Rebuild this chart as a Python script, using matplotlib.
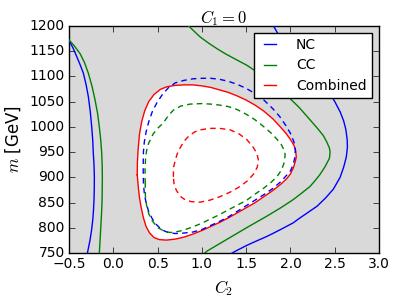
import matplotlib
matplotlib.use("Agg")
import matplotlib.pyplot as plt

# ---- data (traced contour curves, C2 vs m [GeV]) ----
nc_left_x = [-0.50, -0.455, -0.413, -0.375, -0.338, -0.308, -0.282, -0.260, -0.244, -0.233, -0.226, -0.218,
             -0.214, -0.215, -0.218, -0.224, -0.232, -0.246, -0.263, -0.293]
nc_left_y = [1171, 1156, 1139, 1123, 1106, 1084, 1060, 1030, 1000, 975, 948, 925,
             901, 878, 855, 835, 816, 795, 776, 750]

cc_left_x = [-0.50, -0.44, -0.376, -0.325, -0.282, -0.24, -0.206, -0.178, -0.158, -0.142, -0.131, -0.126,
             -0.124, -0.125, -0.127, -0.132, -0.139, -0.148, -0.158]
cc_left_y = [1172, 1160, 1145, 1127, 1106, 1080, 1053, 1027, 1000, 974, 948, 925,
             901, 878, 855, 832, 809, 780, 750]

nc_right_x = [1.80, 1.856, 1.95, 2.05, 2.15, 2.25, 2.35, 2.43, 2.50, 2.56, 2.60, 2.625, 2.64, 2.643, 2.63,
              2.60, 2.56, 2.485, 2.40, 2.30, 2.20, 2.10, 2.03, 1.90, 1.80, 1.73, 1.60, 1.50, 1.40, 1.337]
nc_right_y = [1202, 1185, 1168, 1150, 1130, 1110, 1090, 1070, 1050, 1030, 1012, 995, 975, 960, 940,
              920, 900, 877, 860, 843, 831, 819, 810, 798, 789, 783, 773, 765, 756, 750]

cc_right_x = [0.847, 0.979, 1.08, 1.167, 1.26, 1.355, 1.43, 1.506, 1.60, 1.70, 1.80, 1.90, 1.995, 2.10, 2.22,
              2.30, 2.37, 2.41, 2.44, 2.447, 2.44, 2.39, 2.33, 2.27, 2.22, 2.12, 2.03, 1.90, 1.73, 1.60, 1.50,
              1.355, 1.20, 1.055, 1.03]
cc_right_y = [1200, 1178, 1165, 1155, 1145, 1136, 1129, 1122, 1111, 1098, 1083, 1069, 1056, 1038, 1014,
              998, 983, 970, 958, 950, 938, 921, 905, 892, 882, 868, 856, 841, 823, 810, 800,
              785, 769, 754, 750]

comb_x = [0.27, 0.272, 0.28, 0.295, 0.32, 0.355, 0.40, 0.46, 0.53, 0.60, 0.70, 0.80, 0.90, 1.00, 1.10, 1.20,
          1.30, 1.40, 1.50, 1.60, 1.70, 1.80, 1.88, 1.95, 2.00, 2.04, 2.06, 2.065, 2.055, 2.035, 2.00, 1.96,
          1.90, 1.80, 1.70, 1.60, 1.50, 1.40, 1.30, 1.20, 1.10, 1.00, 0.90, 0.80, 0.70, 0.60, 0.52, 0.46,
          0.41, 0.37, 0.34, 0.315, 0.295, 0.28, 0.27]
comb_y = [905, 930, 955, 985, 1010, 1032, 1050, 1064, 1074, 1079, 1082, 1083, 1083, 1081, 1078, 1073,
          1068, 1061, 1053, 1043, 1031, 1016, 1001, 987, 975, 963, 952, 940, 932, 920, 907, 898,
          888, 874, 862, 850, 840, 830, 820, 811, 803, 795, 788, 782, 778, 776, 777, 781,
          790, 803, 820, 840, 860, 885, 905]

ncd_x = [0.34, 0.337, 0.34, 0.35, 0.37, 0.40, 0.44, 0.49, 0.55, 0.62, 0.70, 0.80, 0.90, 1.00, 1.10, 1.20,
         1.30, 1.40, 1.50, 1.60, 1.70, 1.80, 1.88, 1.95, 2.00, 2.04, 2.055, 2.05, 2.03, 2.00, 1.95, 1.90,
         1.80, 1.70, 1.60, 1.50, 1.40, 1.30, 1.20, 1.10, 1.00, 0.90, 0.80, 0.70, 0.62, 0.55, 0.49, 0.44,
         0.40, 0.37, 0.35, 0.34]
ncd_y = [888, 920, 950, 970, 990, 1010, 1030, 1047, 1063, 1077, 1087, 1092, 1095, 1096, 1096, 1094,
         1090, 1084, 1076, 1066, 1053, 1036, 1020, 1002, 987, 970, 955, 940, 925, 913, 903, 893,
         878, 866, 855, 844, 833, 822, 813, 805, 797, 792, 790, 789, 791, 796, 806, 818,
         832, 850, 868, 888]

ccd_x = [0.36, 0.358, 0.365, 0.38, 0.40, 0.45, 0.50, 0.565, 0.62, 0.678, 0.76, 0.866, 1.00, 1.10, 1.20, 1.30,
         1.40, 1.50, 1.60, 1.70, 1.78, 1.85, 1.90, 1.93, 1.94, 1.93, 1.90, 1.85, 1.78, 1.70, 1.60, 1.506,
         1.40, 1.30, 1.205, 1.10, 0.98, 0.88, 0.78, 0.70, 0.64, 0.57, 0.50, 0.44, 0.40, 0.375, 0.362, 0.36]
ccd_y = [888, 915, 940, 957, 968, 986, 997, 1008, 1022, 1033, 1041, 1045, 1046, 1045, 1043, 1040,
         1034, 1025, 1014, 1000, 988, 975, 964, 953, 945, 930, 915, 902, 890, 879, 867, 855,
         845, 836, 827, 818, 808, 801, 795, 792, 791, 794, 801, 814, 828, 845, 865, 888]

combd_x = [0.678, 0.68, 0.70, 0.72, 0.753, 0.80, 0.86, 0.92, 0.98, 1.09, 1.20, 1.32, 1.42, 1.506, 1.57, 1.62,
           1.637, 1.625, 1.58, 1.52, 1.43, 1.32, 1.205, 1.09, 0.98, 0.88, 0.80, 0.753, 0.71, 0.685, 0.678]
combd_y = [901, 920, 934, 946, 958, 972, 983, 990, 994, 997, 997, 994, 986, 975, 962, 948,
           935, 920, 906, 894, 882, 871, 862, 855, 851, 852, 857, 863, 875, 888, 901]

labels = ["NC", "CC", "Combined"]
xticks = [-0.5, 0.0, 0.5, 1.0, 1.5, 2.0, 2.5, 3.0]
yticks = [750, 800, 850, 900, 950, 1000, 1050, 1100, 1150, 1200]

plt.style.use("classic")
plt.rcParams["mathtext.fontset"] = "cm"
plt.rcParams["font.family"] = ["DejaVu Sans"]

fig = plt.figure(figsize=(3.99, 2.99), dpi=100, facecolor="white")
ax = fig.add_axes([0.173, 0.153, 0.777, 0.761])
ax.set_facecolor("0.85")

ax.fill(comb_x, comb_y, color="white", zorder=1, lw=0)

ax.plot(nc_left_x, nc_left_y, color="b", lw=1, zorder=3)
ax.plot(nc_right_x, nc_right_y, color="b", lw=1, zorder=3, label=labels[0])
ax.plot(cc_left_x, cc_left_y, color="g", lw=1, zorder=3)
ax.plot(cc_right_x, cc_right_y, color="g", lw=1, zorder=3, label=labels[1])
ax.plot(comb_x, comb_y, color="r", lw=1, zorder=3, label=labels[2])

ax.plot(ncd_x, ncd_y, color="b", lw=1, ls="--", dashes=(4, 3), zorder=3)
ax.plot(ccd_x, ccd_y, color="g", lw=1, ls="--", dashes=(4, 3), zorder=3)
ax.plot(combd_x, combd_y, color="r", lw=1, ls="--", dashes=(4, 3), zorder=3)

ax.set_xlim(-0.5, 3.0)
ax.set_ylim(750, 1200)
ax.set_xticks(xticks)
ax.set_yticks(yticks)
ax.tick_params(labelsize=10, direction="in", top=True, right=True, length=4, pad=3)

ax.set_xlabel(r"$C_2$", fontsize=12)
ax.set_ylabel(r"$m$ [GeV]", fontsize=12)
ax.set_title(r"$C_1 = 0$", fontsize=12, pad=2)

leg = ax.legend(loc="upper right", fontsize=10, handlelength=1.5, handletextpad=1.1,
                borderpad=0.4, labelspacing=0.45, borderaxespad=0.5, fancybox=False)
leg.get_frame().set_edgecolor("black")
leg.get_frame().set_linewidth(1)
leg.set_zorder(5)

fig.savefig("out.png", dpi=100, facecolor="white")
